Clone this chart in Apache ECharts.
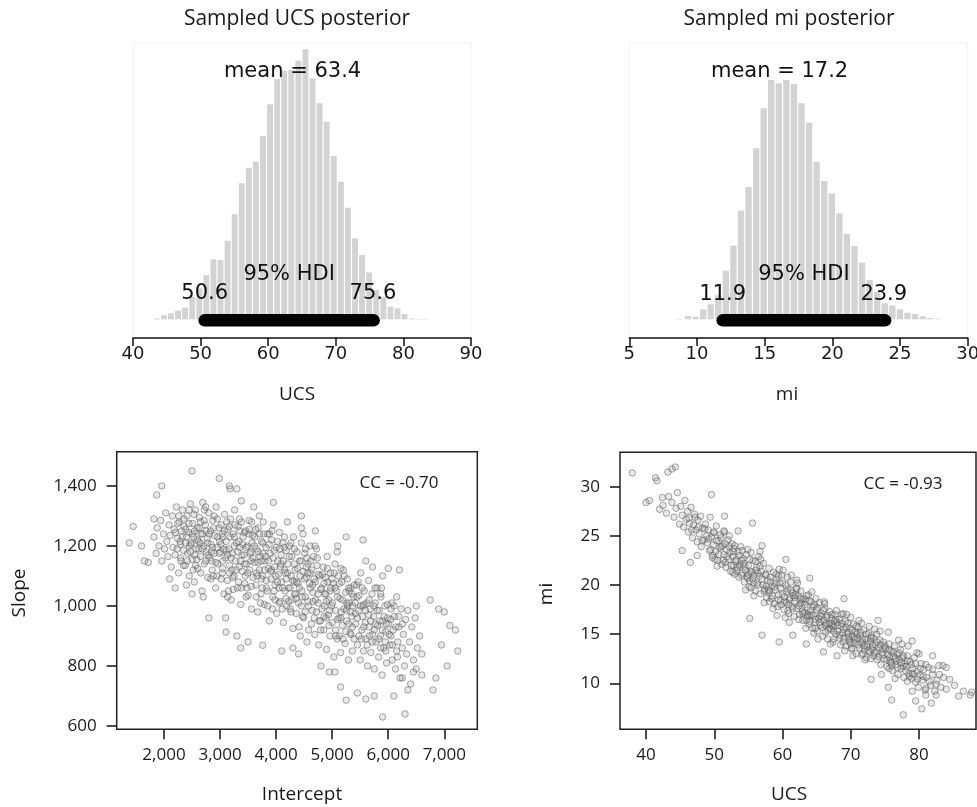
<!DOCTYPE html>
<html><head><meta charset="utf-8">
<script src="https://cdn.jsdelivr.net/npm/echarts@6/dist/echarts.min.js"></script>
<style>html,body{margin:0;padding:0;background:#fff}#c{width:977px;height:807px}</style>
</head><body><div id="c"></div>
<script>
// ---------- data ----------
const ucsBinStart = 43.0, ucsBinWidth = 1.047;
const ucsCounts = [3,12,18,26,35,68,93,133,180,178,236,315,408,455,473,550,645,720,746,748,776,810,723,648,593,490,413,335,243,193,141,88,68,38,33,16,3,1,1];
const ucsMean = 63.4;
const ucsHdi = [50.6, 75.6];
const ucsTicks = [40,50,60,70,80,90];

const miBinStart = 8.5, miBinWidth = 0.559;
const miCounts = [1,10,8,30,45,72,146,221,326,397,513,633,718,708,718,706,648,590,473,415,378,318,256,220,170,118,82,48,42,30,20,16,9,4,2];
const miMean = 17.2;
const miHdi = [11.9, 23.9];
const miTicks = [5,10,15,20,25,30];

const interceptTicks = [2000,3000,4000,5000,6000,7000];
const slopeTicks = [600,800,1000,1200,1400];
const ucsScatterTicks = [40,50,60,70,80];
const miScatterTicks = [10,15,20,25,30];
const ccInterceptSlope = -0.70;
const ccUcsMi = -0.93;

const interceptSlope = [
[1380,1210],[1450,1265],[1600,1200],[1720,1145],[1650,1150],[1820,1290],[1960,1400],[1870,1370],[2500,1450],[2985,1425],[3165,1400],[3180,1390],[3380,1350],[3950,1345],[3700,1300],[4450,1300],[4450,1260],[5250,1230],[5550,1220],[6000,1125],[6200,1120],[6500,1000],[6750,1020],[6900,990],[7000,980],[7100,935],[7240,850],[7200,920],[6950,870],[7050,800],[6850,760],[6800,720],[6600,770],[6500,790],[6300,640],[6250,760],[6350,720],[6100,700],[5900,630],[5750,700],[5600,690],[5450,710],[5250,686],[5150,730],[5050,780],[4950,780],[4800,800],[4400,840],[4300,860],[4100,850],[3760,869],[3370,860],[3500,880],[3300,900],[3106,913],[3100,960],[2800,960],[2700,1030],[2500,1040],[2200,1060],[2400,1070],[2100,1090],
[1820,1230],[1860,1175],[1880,1260],[1910,1200],[1940,1285],[1960,1150],[1990,1240],[2010,1190],[2030,1310],[2050,1215],[2070,1165],[2090,1270],[2110,1235],[2130,1130],[2150,1300],[2160,1195],[2180,1255],[2200,1170],[2220,1330],[2240,1225],[2260,1110],[2270,1280],[2290,1205],[2300,1150],[2310,1250],[2330,1320],[2350,1185],[2360,1265],[2380,1135],[2400,1230],
[2410,1300],[2420,1175],[2440,1245],[2450,1100],[2470,1340],[2480,1210],[2500,1155],[2510,1275],[2530,1230],[2540,1080],[2560,1320],[2570,1190],[2590,1260],[2600,1125],[2620,1215],[2630,1295],[2650,1165],[2660,1240],[2680,1050],[2690,1345],[2710,1200],[2720,1140],[2740,1270],[2750,1180],[2770,1225],[2780,1095],[2800,1310],[2810,1160],[2830,1250],[2840,1205],[2860,1120],[2870,1285],[2890,1175],[2900,1235],[2920,1060],[2930,1330],[2950,1195],[2960,1140],[2980,1260],[2990,1215],[2450,1200],[2550,1170],[2650,1280],[2750,1250],[2850,1150],[2950,1290],[2520,1120],[2720,1320],[2880,1100],[2620,1190],
[3010,1180],[3020,1270],[3040,1110],[3050,1230],[3070,1040],[3080,1305],[3100,1160],[3110,1215],[3130,1085],[3140,1255],[3160,1190],[3170,1135],[3190,1290],[3200,1020],[3220,1175],[3230,1240],[3250,1100],[3260,1320],[3280,1150],[3290,1210],[3310,1060],[3320,1265],[3340,1130],[3350,1195],[3370,1005],[3380,1280],[3400,1115],[3410,1230],[3430,1170],[3440,1075],[3460,1250],[3470,1140],[3490,1200],[3500,1035],[3520,1285],[3530,1120],[3550,1180],[3560,990],[3580,1235],[3590,1095],[3050,1150],[3150,1050],[3250,1200],[3350,1250],[3450,1100],[3550,1150],[3120,1280],[3330,1080],[3480,1060],[3570,1210],[3020,1090],[3210,1120],[3390,1170],[3510,1240],[3180,1230],
[3610,1145],[3620,1230],[3640,1070],[3650,1190],[3670,980],[3680,1260],[3700,1120],[3710,1165],[3730,1040],[3740,1215],[3760,1100],[3770,1280],[3790,1005],[3800,1150],[3820,1195],[3830,1060],[3850,1240],[3860,1125],[3880,950],[3890,1175],[3910,1090],[3920,1220],[3940,1030],[3950,1270],[3970,1130],[3980,1070],[4000,1195],[4010,975],[4030,1150],[4040,1105],[4060,1245],[4070,1015],[4090,1170],[4100,1080],[4120,1210],[4130,945],[4150,1120],[4160,1050],[4180,1185],[4190,1000],[3650,1110],[3750,1060],[3850,1000],[3950,1160],[4050,1060],[4150,1230],[3680,1180],[3880,1240],[4080,1130],[3720,1010],[3920,1120],[4110,990],[3780,1240],[3980,1020],[4180,1090],
[4210,1140],[4220,1060],[4240,1200],[4250,990],[4270,1100],[4280,1165],[4300,925],[4310,1230],[4330,1040],[4340,1120],[4360,975],[4370,1180],[4390,1075],[4400,1010],[4420,1150],[4430,900],[4450,1210],[4460,1050],[4480,1115],[4490,960],[4510,1175],[4520,1030],[4540,1095],[4550,880],[4570,1140],[4580,1000],[4600,1200],[4610,1060],[4630,940],[4640,1120],[4660,1015],[4670,1165],[4690,905],[4700,1080],[4720,980],[4730,1135],[4750,1040],[4760,870],[4780,1100],[4790,950],[4250,1060],[4350,1040],[4450,1000],[4550,1160],[4650,1070],[4750,1010],[4280,1020],[4480,1240],[4680,960],[4320,1080],[4520,980],[4720,1190],[4410,930],[4610,1110],[4580,920],
[4810,1060],[4820,990],[4840,1130],[4850,920],[4870,1040],[4880,1095],[4900,855],[4910,1165],[4930,970],[4940,1020],[4960,900],[4970,1110],[4990,1000],[5000,945],[5020,1075],[5030,830],[5050,1140],[5060,985],[5080,1050],[5090,890],[5110,1100],[5120,960],[5140,1025],[5150,845],[5170,1080],[5180,935],[5200,1120],[5210,990],[5230,875],[5240,1045],[5260,950],[5270,1090],[5290,820],[5300,1010],[5320,910],[5330,1060],[5350,965],[5360,850],[5380,1030],[5390,890],[4860,1000],[4960,1050],[5060,920],[5160,980],[5260,1010],[5360,930],[4890,960],[5090,1180],[5290,1060],[4920,1080],[5130,900],[5330,980],
[5410,1010],[5420,940],[5440,1070],[5450,870],[5470,985],[5480,1035],[5500,820],[5510,1110],[5530,920],[5540,965],[5560,850],[5570,1050],[5590,945],[5600,890],[5620,1010],[5630,800],[5650,1085],[5660,930],[5680,990],[5690,845],[5710,1040],[5720,905],[5740,965],[5750,790],[5770,1010],[5780,880],[5800,1060],[5810,935],[5830,830],[5840,985],[5860,900],[5870,1030],[5890,770],[5900,950],[5920,860],[5940,1000],[5960,915],[5970,810],[5990,960],[5450,960],[5550,1000],[5650,970],[5750,920],[5850,950],[5950,880],[5520,890],[5720,1130],[5880,1060],
[6010,940],[6030,870],[6050,990],[6070,820],[6090,920],[6110,965],[6130,790],[6150,1030],[6170,880],[6190,930],[6210,760],[6230,990],[6250,860],[6270,905],[6290,800],[6310,955],[6330,840],[6350,985],[6380,880],[6400,740],[6420,930],[6450,820],[6480,960],[6520,860],[6560,900],[6600,840],[6050,900],[6150,850],[6250,940],[6450,780],
[5100,1200],[5600,1150],[5900,1100],[4700,1250],[4200,1280],[3600,1330],[3300,1390],
[2205,1245],[2235,1190],[2265,1300],[2295,1160],[2325,1230],[2355,1290],[2385,1210],[2415,1150],[2445,1275],[2475,1180],[2505,1240],[2535,1305],[2565,1135],[2595,1220],[2625,1260],[2655,1110],[2685,1190],[2715,1285],[2745,1150],[2775,1210],[2805,1240],[2835,1090],[2865,1195],[2895,1300],[2925,1145],[2955,1230],[2985,1175],[2245,1275],[2345,1135],[2445,1320],[2545,1250],[2645,1210],[2745,1330],[2845,1180],[2945,1100],[2285,1215],[2385,1255],[2485,1205],[2585,1155],[2685,1240],[2785,1170],[2885,1260],
[3015,1205],[3045,1125],[3075,1250],[3105,1185],[3135,1030],[3165,1265],[3195,1160],[3225,1095],[3255,1230],[3285,1120],[3315,1180],[3345,1290],[3375,1060],[3405,1205],[3435,1140],[3465,1195],[3495,1110],[3525,1255],[3555,1065],[3585,1160],[3615,1200],[3645,1030],[3675,1145],[3705,1240],[3735,1090],[3765,1175],[3795,1120],[3065,1190],[3165,1110],[3265,1270],[3365,1150],[3465,1030],[3565,1280],[3665,1100],[3765,1210],[3035,1240],[3135,1170],[3235,1055],[3335,1215],[3435,1245],[3535,1175],[3635,1255],[3735,1150],
[3815,1165],[3845,1050],[3875,1205],[3905,1115],[3935,990],[3965,1185],[3995,1100],[4025,1215],[4055,1010],[4085,1140],[4115,1060],[4145,1195],[4175,1025],[4205,1110],[4235,1165],[4265,980],[4295,1085],[4325,1190],[4355,1025],[4385,1125],[4415,1060],[4445,1150],[4475,965],[4505,1090],[4535,1130],[4565,1015],[4595,1075],[3825,1085],[3925,1250],[4025,1080],[4125,1150],[4225,1015],[4325,1140],[4425,1100],[4525,1190],[3865,1150],[3965,1050],[4065,1190],[4165,1110],[4265,1210],[4365,1080],[4465,1030],[4565,1110],
[4615,1150],[4645,985],[4675,1090],[4705,1020],[4735,1160],[4765,950],[4795,1055],[4825,1105],[4855,965],[4885,1040],[4915,1125],[4945,935],[4975,1060],[5005,1010],[5035,1110],[5065,900],[5095,1030],[5125,1075],[5155,960],[5185,1020],[5215,1100],[5245,915],[5275,1000],[5305,1050],[5335,905],[5365,1000],[5395,1070],[4655,1045],[4755,1105],[4855,1075],[4955,985],[5055,1060],[5155,1125],[5255,985],[5355,1040],[4695,1200],[4795,920],[4895,1015],[4995,1090],[5095,955],[5195,890],[5295,940],
[5415,975],[5445,1030],[5475,900],[5505,1000],[5535,1060],[5565,930],[5595,985],[5625,870],[5655,1020],[5685,950],[5715,880],[5745,1000],[5775,940],[5805,985],[5835,890],[5865,1040],[5895,920],[5925,965],[5955,850],[5985,1005],[6015,905],[6045,955],[6075,870],[6105,1000],[6135,930],[6165,830],[5465,1080],[5565,1005],[5665,900],[5765,1060],[5865,860],[5965,940],[6065,1010],[6185,965]
];

const ucsMi = [
[38.0,31.4],[40.0,28.4],[40.5,28.6],[41.4,30.9],[41.6,30.6],[42.4,28.9],[43.2,31.5],[43.8,31.8],[44.3,32.0],[42.0,27.7],[49.6,29.2],[55.6,26.3],[45.3,23.5],[46.5,22.3],[47.5,23.0],[55.2,16.6],[57.0,14.9],[59.5,14.2],[61.5,14.9],[77.7,6.8],[80.4,7.4],[79.5,8.2],[81.8,8.0],[76.0,8.3],[87.7,9.1],[87.5,8.8],[84.0,11.6],[82.0,12.8],[75.5,9.6],[73.0,10.4],[68.0,12.8],[66.0,13.2],[63.5,14.0],[51.5,27.0],[53.5,25.5],[57.0,24.0],[60.5,22.6],[64.0,20.7],[69.0,18.6],[74.0,16.4],[79.0,14.3],
[42.5,28.1],[43.0,27.3],[43.3,29.0],[43.8,28.4],[44.1,26.9],[44.4,27.8],[44.6,29.4],[44.9,26.2],[45.1,28.0],[45.3,27.1],[45.5,25.9],[45.7,28.6],[45.9,26.7],[46.1,27.5],[46.2,25.4],[46.4,26.3],[46.6,27.9],[46.8,24.8],[47.0,26.1],[47.1,27.2],[47.3,25.6],[47.5,24.4],[47.6,26.6],[47.8,25.2],[48.0,27.0],[48.1,23.9],[48.3,25.8],[48.5,24.6],[48.7,26.2],[48.9,25.0],
[49.0,24.3],[49.1,25.6],[49.3,23.5],[49.4,26.9],[49.6,24.9],[49.7,22.8],[49.9,24.1],[50.0,25.3],[50.2,23.4],[50.3,26.0],[50.5,22.5],[50.6,24.5],[50.8,23.8],[50.9,25.1],[51.1,22.1],[51.2,24.0],[51.4,23.1],[51.5,25.4],[51.7,21.8],[51.8,23.6],[52.0,24.6],[52.1,22.6],[52.3,23.3],[52.4,21.4],[52.6,24.2],[52.7,22.9],[52.9,23.7],[53.0,21.1],[52.2,25.0],[50.4,21.9],[49.8,23.0],[51.0,24.8],[51.6,22.3],[52.8,22.0],[53.0,24.0],
[53.2,22.6],[53.3,21.5],[53.5,23.4],[53.6,20.8],[53.8,22.1],[53.9,23.9],[54.1,21.2],[54.2,22.7],[54.4,20.3],[54.5,21.9],[54.7,23.1],[54.8,20.9],[55.0,22.0],[55.1,19.8],[55.3,21.4],[55.4,23.3],[55.6,20.6],[55.7,22.5],[55.9,21.0],[56.0,19.4],[56.2,21.8],[56.3,20.2],[56.5,22.9],[56.6,20.9],[56.8,19.1],[56.9,21.4],[57.1,20.0],[57.2,22.2],[57.4,19.6],[57.5,21.1],[57.7,18.7],[57.8,20.5],[58.0,21.7],[54.0,22.5],[55.2,20.4],[56.4,21.2],[57.6,19.9],[53.7,21.9],[54.9,23.6],[56.1,22.4],[57.3,18.2],[55.8,18.9],[54.6,19.5],[56.7,23.4],
[58.1,19.4],[58.2,20.8],[58.4,18.6],[58.5,19.9],[58.7,21.3],[58.8,18.1],[59.0,19.5],[59.1,20.6],[59.3,17.8],[59.4,19.0],[59.6,20.2],[59.7,18.4],[59.9,21.0],[60.0,19.1],[60.2,17.5],[60.3,18.8],[60.5,20.0],[60.6,18.2],[60.8,19.6],[60.9,17.1],[61.1,18.7],[61.2,20.3],[61.4,17.8],[61.5,19.2],[61.7,16.8],[61.8,18.3],[62.0,19.7],[62.1,17.6],[62.3,18.9],[62.4,16.5],[62.6,18.1],[62.7,19.4],[62.9,17.3],[63.0,18.6],[58.6,17.6],[59.5,21.6],[60.4,16.7],[61.3,21.0],[62.2,20.2],[63.0,16.4],[58.9,20.2],[59.8,18.0],[60.7,20.8],[61.6,18.9],[62.5,17.0],[59.2,16.9],[60.1,21.5],[61.0,16.2],[61.9,19.0],[62.8,18.2],
[63.2,17.2],[63.3,18.5],[63.5,16.4],[63.6,17.7],[63.8,19.0],[63.9,16.0],[64.1,17.4],[64.2,18.3],[64.4,15.6],[64.5,16.9],[64.7,18.0],[64.8,16.2],[65.0,17.5],[65.1,15.3],[65.3,16.6],[65.4,18.2],[65.6,15.9],[65.7,17.1],[65.9,14.8],[66.0,16.4],[66.2,17.6],[66.3,15.2],[66.5,16.7],[66.6,14.5],[66.8,16.0],[66.9,17.3],[67.1,15.5],[67.2,16.6],[67.4,14.2],[67.5,15.8],[67.7,17.0],[67.8,15.0],[68.0,16.2],[63.4,15.6],[64.3,19.3],[65.2,14.5],[66.1,18.3],[67.0,14.0],[67.9,17.4],[63.7,17.0],[64.6,15.1],[65.5,16.9],[66.4,16.1],[67.3,15.9],[64.0,16.8],[64.9,18.6],[65.8,15.7],[66.7,15.4],[67.6,16.3],
[68.1,15.3],[68.3,16.5],[68.4,14.6],[68.6,15.8],[68.7,17.0],[68.9,14.2],[69.0,15.5],[69.2,16.3],[69.3,13.8],[69.5,15.0],[69.6,16.1],[69.8,14.4],[69.9,15.6],[70.1,13.5],[70.2,14.8],[70.4,16.0],[70.5,14.1],[70.7,15.2],[70.8,13.0],[71.0,14.6],[71.1,15.7],[71.3,13.6],[71.4,14.9],[71.6,12.9],[71.7,14.2],[71.9,15.4],[72.0,13.4],[72.2,14.5],[72.3,12.6],[72.5,14.0],[72.6,15.1],[72.8,13.2],[72.9,14.3],[68.5,13.9],[69.4,17.0],[70.3,12.8],[71.2,16.4],[72.1,12.4],[72.7,15.8],[68.8,15.1],[69.7,14.7],[70.6,14.5],[71.5,14.1],[72.4,13.7],[69.1,13.3],[70.0,16.7],[70.9,15.0],[71.8,13.0],
[73.1,13.5],[73.3,14.6],[73.4,12.8],[73.6,13.9],[73.8,15.0],[73.9,12.4],[74.1,13.6],[74.3,14.4],[74.4,11.9],[74.6,13.1],[74.8,14.2],[74.9,12.5],[75.1,13.6],[75.3,11.7],[75.4,12.9],[75.6,14.0],[75.8,12.2],[75.9,13.3],[76.1,11.3],[76.3,12.7],[76.4,13.8],[76.6,11.9],[76.8,13.0],[76.9,10.9],[77.1,12.4],[77.3,13.4],[77.4,11.5],[77.6,12.6],[77.8,10.6],[77.9,12.0],[73.5,15.5],[74.5,10.9],[75.5,15.2],[76.5,10.5],[77.5,14.0],[73.7,13.2],[74.7,13.5],[75.7,12.6],[76.7,12.3],[77.7,11.7],
[78.1,11.7],[78.3,12.8],[78.5,11.0],[78.7,12.2],[78.9,10.5],[79.1,11.5],[79.3,12.6],[79.5,10.1],[79.7,11.2],[79.9,9.6],[80.1,10.8],[80.3,12.0],[80.5,10.3],[80.7,11.4],[80.9,9.3],[81.1,10.6],[81.4,11.6],[81.7,9.8],[82.0,10.9],[82.3,9.2],[82.6,10.3],[82.9,11.8],[83.2,9.6],[83.6,10.6],[84.0,9.4],[78.4,13.8],[79.0,9.2],[80.0,13.0],[81.0,8.8],[82.5,8.8],[83.5,11.8],[84.5,10.4],[85.2,9.8],[85.8,8.7],[86.5,9.2],
[46.3,26.8],[46.7,25.6],[47.2,26.9],[47.7,25.9],[48.2,24.5],[48.6,25.7],[49.2,24.7],[49.5,23.6],[49.9,25.4],[50.3,24.5],[50.7,23.1],[51.0,23.9],[51.3,22.5],[51.6,24.2],[51.9,22.9],[52.2,23.9],[52.5,22.0],[52.8,23.4],[53.1,22.4],[53.4,21.8],[53.7,23.0],[54.0,21.0],[54.3,22.2],[54.6,21.5],[54.9,20.7],[55.2,22.6],[55.5,21.3],[55.8,20.2],[56.1,21.5],[56.4,20.0],[56.7,21.9],[57.0,20.6],[57.3,19.4],[57.6,21.0],[57.9,19.5],[58.2,20.3],[58.5,18.9],[58.8,19.8],[59.1,21.1],[59.4,18.5],[59.7,19.7],[60.0,20.2],[60.3,18.3],[60.6,19.3],[60.9,18.0],[61.2,19.5],[61.5,17.6],[61.8,18.7],[62.1,19.6],[62.4,17.9],[62.7,18.6],[63.0,17.1],[63.3,18.0],[63.6,16.8],[63.9,18.4],[64.2,17.0],[64.5,17.8],[64.8,16.5],[65.1,17.7],[65.4,16.2],[65.7,16.8],[66.0,17.4],[66.3,15.9],[66.6,16.9],[66.9,15.6],[67.2,17.0],[67.5,15.3],[67.8,16.5],[68.1,15.9],[68.4,14.9],[68.7,16.1],[69.0,14.6],[69.3,15.7],[69.6,15.2],[69.9,14.2],[70.2,15.4],[70.5,14.7],[70.8,15.8],[71.1,13.9],[71.4,15.2],[71.7,14.5],[72.0,13.8],[72.3,15.0],[72.6,13.3],[72.9,14.6],[73.2,13.9],[73.5,13.1],[73.8,14.2],[74.1,12.7],[74.4,13.9],[74.7,12.9],[75.0,13.8],[75.3,12.4],[75.6,13.4],[75.9,12.1],[76.2,13.2],[76.5,12.5],[76.8,11.6],[77.1,13.1],[77.4,12.1],[77.7,12.8],[78.0,11.3],[78.3,12.3],[78.6,10.7],[78.9,11.9],[79.2,10.9],[79.5,12.0],[79.8,10.4],[80.2,11.5],[80.6,10.7],[81.0,11.9],[81.5,10.2],[82.0,11.4],[82.5,9.9],[83.0,10.9],
[50.1,22.6],[51.4,25.5],[52.7,21.3],[54.1,23.5],[55.4,19.7],[56.8,22.6],[58.1,18.3],[59.4,20.9],[60.8,17.4],[62.1,20.5],[63.5,18.9],[64.8,15.6],[66.2,18.1],[67.5,14.5],[68.9,17.1],[70.2,13.6],[71.6,16.1],[72.9,12.5],[74.3,15.3],[75.6,11.5],[77.0,14.4],[78.3,10.2],[79.7,13.1],[81.0,9.5],[55.0,21.1],[58.0,19.2],[61.0,18.5],[64.0,16.3],[67.0,16.1],[70.0,14.0],[73.0,14.8],[76.0,11.8],[79.0,11.0]
];

// ---------- chart ----------
const chart = echarts.init(document.getElementById('c'), null, {renderer:'canvas'});
const DJ = 'DejaVu Sans';
const OS = 'Open Sans';
const ink = '#1a1a1a';

function histData(start, w, counts){ return counts.map((c,i)=>[start+i*w, c, start+(i+1)*w]); }
function histRender(params, api){
  const p0 = api.coord([api.value(0), api.value(1)]);
  const p1 = api.coord([api.value(2), 0]);
  return {type:'rect', shape:{x:p0[0]+0.6, y:p0[1], width:Math.max(0,p1[0]-p0[0]-1.2), height:p1[1]-p0[1]}, style:{fill:'#d3d3d3'}};
}
function histXAxis(idx, ticks){
  return {gridIndex:idx, type:'value', min:ticks[0], max:ticks[ticks.length-1], interval:ticks[1]-ticks[0],
    axisLine:{show:true, onZero:false, lineStyle:{color:'#111', width:1.5}},
    axisTick:{show:true, inside:false, length:8, lineStyle:{color:'#111', width:1.5}},
    axisLabel:{show:true, fontFamily:DJ, fontSize:18, color:ink, margin:7},
    splitLine:{show:false}};
}
function histYAxis(idx){
  return {gridIndex:idx, type:'value', min:-56, max:829, show:false, splitLine:{show:false}};
}
function scatterAxis(idx, dim, min, max, ticks, fmt){
  return {gridIndex:idx, type:'value', min:min, max:max,
    axisLine:{show:false}, splitLine:{show:false},
    axisTick:{show:true, inside:false, length:10, customValues:ticks, lineStyle:{color:'#111', width:1.5}},
    axisLabel:{show:true, customValues:ticks, fontFamily:OS, fontSize:17, color:ink, margin: dim==='x'?17:20,
      formatter: fmt}};
}
function annot(xIdx, items){
  return {type:'scatter', xAxisIndex:xIdx, yAxisIndex:xIdx, symbolSize:0, silent:true, z:5,
    itemStyle:{opacity:1},
    data: items.map(it=>({value:[it[0], it[1]], itemStyle:{opacity:1}, label:{show:true, position:'inside', formatter:it[2], fontFamily:DJ, fontSize:21, color:'#111', opacity:1}}))};
}
const comma = v => Number(v).toLocaleString('en-US');
const scatterStyle = {color:'rgba(150,150,150,0.22)', borderColor:'rgba(85,85,85,0.5)', borderWidth:1, opacity:1};

const option = {
  animation:false,
  backgroundColor:'#fff',
  grid:[
    {left:133, top:43, width:338, height:295, outerBoundsMode:'none', show:true, borderColor:'#f3f3f3', borderWidth:1},
    {left:629.3, top:43, width:338.4, height:295, outerBoundsMode:'none', show:true, borderColor:'#f3f3f3', borderWidth:1},
    {left:116.7, top:451.7, width:360.6, height:277.6, outerBoundsMode:'none', show:true, borderColor:'#222', borderWidth:1.5},
    {left:620, top:452.3, width:356, height:277, outerBoundsMode:'none', show:true, borderColor:'#222', borderWidth:1.5}
  ],
  xAxis:[
    histXAxis(0, ucsTicks),
    histXAxis(1, miTicks),
    scatterAxis(2, 'x', 1156, 7589, interceptTicks, comma),
    scatterAxis(3, 'x', 36.19, 88.35, ucsScatterTicks)
  ],
  yAxis:[
    histYAxis(0), histYAxis(1),
    scatterAxis(2, 'y', 589, 1514, slopeTicks, comma),
    scatterAxis(3, 'y', 5.32, 33.5, miScatterTicks)
  ],
  series:[
    {type:'custom', xAxisIndex:0, yAxisIndex:0, renderItem:histRender, encode:{x:[0,2], y:1}, data:histData(ucsBinStart, ucsBinWidth, ucsCounts), clip:false},
    {type:'custom', xAxisIndex:1, yAxisIndex:1, renderItem:histRender, encode:{x:[0,2], y:1}, data:histData(miBinStart, miBinWidth, miCounts), clip:false},
    {type:'line', xAxisIndex:0, yAxisIndex:0, symbol:'none', clip:false, z:4, lineStyle:{color:'#000', width:12.5, cap:'round'}, data:[[ucsHdi[0],-3],[ucsHdi[1],-3]]},
    {type:'line', xAxisIndex:1, yAxisIndex:1, symbol:'none', clip:false, z:4, lineStyle:{color:'#000', width:12.5, cap:'round'}, data:[[miHdi[0],-3],[miHdi[1],-3]]},
    annot(0, [[63.6, 742, 'mean = ' + ucsMean], [(ucsHdi[0]+ucsHdi[1])/2, 134, '95% HDI'], [ucsHdi[0], 76, String(ucsHdi[0])], [ucsHdi[1]-0.1, 76, String(ucsHdi[1])]]),
    annot(1, [[16.1, 742, 'mean = ' + miMean], [(miHdi[0]+miHdi[1])/2, 134, '95% HDI'], [miHdi[0], 74, String(miHdi[0])], [miHdi[1]-0.1, 74, String(miHdi[1])]]),
    {type:'scatter', xAxisIndex:2, yAxisIndex:2, symbol:'circle', symbolSize:6.5, itemStyle:scatterStyle, data:interceptSlope},
    {type:'scatter', xAxisIndex:3, yAxisIndex:3, symbol:'circle', symbolSize:6.5, itemStyle:scatterStyle, data:ucsMi}
  ],
  graphic:[
    {type:'text', x:297, y:19, style:{text:'Sampled UCS posterior', fontFamily:OS, fontSize:21, fill:ink, align:'center', verticalAlign:'middle'}},
    {type:'text', x:789, y:19, style:{text:'Sampled mi posterior', fontFamily:OS, fontSize:21, fill:ink, align:'center', verticalAlign:'middle'}},
    {type:'text', x:297, y:395, style:{text:'UCS', fontFamily:OS, fontSize:19, fill:ink, align:'center', verticalAlign:'middle'}},
    {type:'text', x:787, y:395, style:{text:'mi', fontFamily:OS, fontSize:19, fill:ink, align:'center', verticalAlign:'middle'}},
    {type:'text', x:20, y:593, rotation:Math.PI/2, style:{text:'Slope', fontFamily:OS, fontSize:19, fill:ink, align:'center', verticalAlign:'middle'}},
    {type:'text', x:547, y:594, rotation:Math.PI/2, style:{text:'mi', fontFamily:OS, fontSize:19, fill:ink, align:'center', verticalAlign:'middle'}},
    {type:'text', x:302, y:795, style:{text:'Intercept', fontFamily:OS, fontSize:19, fill:ink, align:'center', verticalAlign:'middle'}},
    {type:'text', x:789, y:795, style:{text:'UCS', fontFamily:OS, fontSize:19, fill:ink, align:'center', verticalAlign:'middle'}},
    {type:'text', x:399, y:483, style:{text:'CC = ' + ccInterceptSlope.toFixed(2), fontFamily:OS, fontSize:17, fill:ink, align:'center', verticalAlign:'middle'}},
    {type:'text', x:903, y:484, style:{text:'CC = ' + ccUcsMi.toFixed(2), fontFamily:OS, fontSize:17, fill:ink, align:'center', verticalAlign:'middle'}}
  ]
};
chart.setOption(option);
</script>
</body></html>
